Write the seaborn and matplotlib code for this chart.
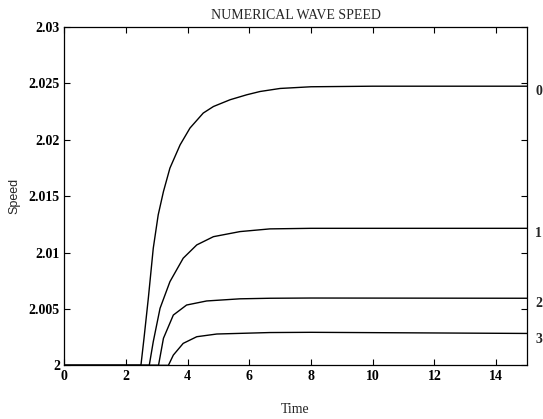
import matplotlib
matplotlib.use("Agg")
import matplotlib.pyplot as plt
import seaborn as sns
import pandas as pd

# curve data (time, speed)
t0 = [0, 2.49, 2.59, 2.73, 2.89, 3.05, 3.22, 3.43, 3.76, 4.08, 4.51, 4.84, 5.38, 5.92, 6.35,
      7, 8, 10, 12, 15]
s0 = [2.0, 2.0, 2.0024, 2.00595, 2.01038, 2.01334, 2.01541, 2.01749, 2.01955, 2.02104, 2.02237,
      2.02295, 2.02355, 2.02399, 2.02428, 2.02455, 2.0247, 2.02475, 2.02475, 2.02475]

t1 = [0, 2.76, 2.89, 3.11, 3.43, 3.86, 4.3, 4.84, 5.7, 6.67, 8, 15]
s1 = [2.0, 2.0, 2.0021, 2.00506, 2.00742, 2.0095, 2.01068, 2.01141, 2.01186, 2.0121, 2.01215, 2.01215]

t2 = [0, 3.06, 3.22, 3.54, 3.97, 4.62, 5.7, 6.67, 8, 15]
s2 = [2.0, 2.0, 2.0024, 2.00446, 2.00535, 2.00571, 2.0059, 2.00595, 2.00597, 2.00595]

t3 = [0, 3.38, 3.54, 3.86, 4.3, 4.95, 6.67, 8, 15]
s3 = [2.0, 2.0, 2.00091, 2.00195, 2.00254, 2.00278, 2.00291, 2.00293, 2.00283]

curve_labels = ["0", "1", "2", "3"]
x_ticks = [0, 2, 4, 6, 8, 10, 12, 14]
y_ticks = [2.0, 2.005, 2.01, 2.015, 2.02, 2.025, 2.03]
y_ticklabels = ["2", "2.005", "2.01", "2.015", "2.02", "2.025", "2.03"]

sns.set_theme(style="ticks")
plt.rcParams["font.family"] = ["Liberation Serif", "DejaVu Serif"]
plt.rcParams["lines.solid_joinstyle"] = "round"

fig = plt.figure(figsize=(5.43, 4.19), dpi=100)
ax = fig.add_axes([0.118, 0.128, 0.8525, 0.8076])

curves = [(t0, s0), (t1, s1), (t2, s2), (t3, s3)]
for (t, s), lab in zip(curves, curve_labels):
    df = pd.DataFrame({"Time": t, "Speed": s})
    sns.lineplot(data=df, x="Time", y="Speed", ax=ax, color="black", linewidth=1.0,
                 estimator=None, sort=False)
    ax.text(15.27, s[-1] - 0.0005, lab, fontsize=10, fontweight="bold",
            ha="left", va="center", clip_on=False)

ax.set_xlim(0, 15)
ax.set_ylim(2.0, 2.03)
ax.set_xticks(x_ticks)
ax.set_xticklabels([str(v) for v in x_ticks])
ax.set_yticks(y_ticks)
ax.set_yticklabels(y_ticklabels)

ax.tick_params(direction="in", length=4, width=0.8, top=True, right=True,
               labelsize=10, colors="black", pad=3)
for lbl in ax.get_xticklabels() + ax.get_yticklabels():
    lbl.set_fontweight("bold")
for sp in ax.spines.values():
    sp.set_visible(True)
    sp.set_linewidth(0.9)
    sp.set_color("black")

ax.set_title("NUMERICAL WAVE SPEED", fontsize=10, pad=6)
ax.set_xlabel("Time", fontsize=10, labelpad=15)
ax.set_ylabel("Speed", fontsize=9, family=["Liberation Sans", "DejaVu Sans"], labelpad=6)

fig.savefig("out.png", dpi=100)
